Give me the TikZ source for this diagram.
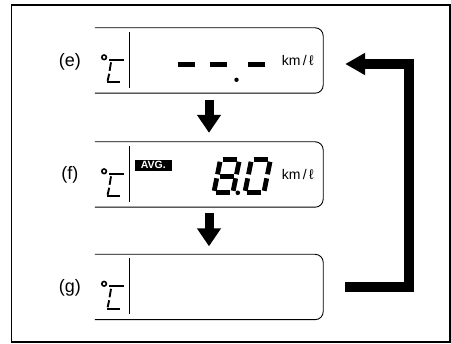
\documentclass[tikz,border=0pt]{standalone}
\usepackage{fontspec}
\setmainfont{Liberation Sans}
\usetikzlibrary{arrows.meta}
\tikzset{
  panelbox/.style={minimum width=228pt, minimum height=65pt, inner sep=0pt, draw=none},
  panel/.style={line width=0.9pt, rounded corners=8pt},
  flow/.style={line width=9pt, -{Triangle[width=23pt,length=18pt]}},
  loopback/.style={line width=10pt, line join=miter, -{Triangle[width=21pt,length=20pt]}},
  seg/.style={line width=4.8pt},
  csg/.style={line width=1.9pt},
  lbl/.style={font=\fontsize{18}{18}\selectfont, inner sep=0pt},
  unit/.style={font=\fontsize{14}{14}\selectfont, inner sep=0pt},
  avg/.style={fill=black, text=white, font=\bfseries\fontsize{10.5}{10.5}\selectfont, inner sep=0pt, minimum width=37pt, minimum height=11.5pt},
}
\newcommand\lcdeight{%
  \draw[seg] (2.5,33)--(16.5,33);
  \draw[seg] (19,31)--(19,18.5);
  \draw[seg] (19,14.5)--(19,2);
  \draw[seg] (2.5,0)--(16.5,0);
  \draw[seg] (0,2)--(0,14.5);
  \draw[seg] (0,18.5)--(0,31);
  \draw[seg] (2.5,16.5)--(16.5,16.5);}
\newcommand\lcdzero{%
  \draw[seg] (2.5,33)--(16.5,33);
  \draw[seg] (19,31)--(19,18.5);
  \draw[seg] (19,14.5)--(19,2);
  \draw[seg] (2.5,0)--(16.5,0);
  \draw[seg] (0,2)--(0,14.5);
  \draw[seg] (0,18.5)--(0,31);}
\newcommand\degsign{%
  \draw[line width=1.6pt] (9.3,29.5) circle (2.3pt);
  \draw[csg] (14.5,32)--(29,32);
  \draw[csg] (16.2,34.5)--(14.8,43);
  \draw[csg] (14.4,46)--(12.8,53);
  \draw[csg] (12.5,54.5)--(25,54.5);
  \draw[line width=0.9pt] (35,4)--(35,60);}
\begin{document}
\begin{tikzpicture}[x=1pt,y=-1pt]
\useasboundingbox (0,0) rectangle (451,344);
\draw[line width=1.5pt] (11.5,5) rectangle (450,342);

\node[panelbox] (e) at (209,60.5) {};
\node[panelbox] (f) at (209,174.5) {};
\node[panelbox] (g) at (209,287) {};

\foreach \p in {e,f,g}{
  \draw[panel] (\p.north west) -| (\p.south east) -- (\p.south west);
}

% panel e
\begin{scope}[shift={(e.north west)}]
  \degsign
  \node[lbl] (le) at (-25,34) {(e)};
  \node[unit] (ue) at (203,33) {km\,/\,ℓ};
  \draw[seg] (83,37)--(100,37);
  \draw[seg] (115,37)--(132,37);
  \draw[seg] (153,37)--(170,37);
  \fill (141.7,52) circle (2.2pt);
\end{scope}

% panel f
\begin{scope}[shift={(f.north west)}]
  \degsign
  \node[lbl] (lf) at (-25,33) {(f)};
  \node[unit] (uf) at (203,33) {km\,/\,ℓ};
  \node[avg] (av) at (58.5,23.5) {AVG.};
  \fill (143,51) circle (2.3pt);
  \begin{scope}[shift={(119,51)}, x={(1pt,0pt)}, y={(0.2pt,1pt)}]
    \lcdeight
  \end{scope}
  \begin{scope}[shift={(150,51)}, x={(1pt,0pt)}, y={(0.2pt,1pt)}]
    \lcdzero
  \end{scope}
\end{scope}

% panel g
\begin{scope}[shift={(g.north west)}]
  \degsign
  \node[lbl] (lg) at (-25,34) {(g)};
\end{scope}

\draw[flow, shorten <=7pt, shorten >=9pt] (e.south) -- (f.north);
\draw[flow, shorten <=6pt, shorten >=8pt] (f.south) -- (g.north);
\draw[loopback] ([xshift=22pt]g.east) -| ([xshift=86pt,yshift=-3.5pt]e.east) -- ([xshift=22pt,yshift=-3.5pt]e.east);
\end{tikzpicture}
\end{document}
